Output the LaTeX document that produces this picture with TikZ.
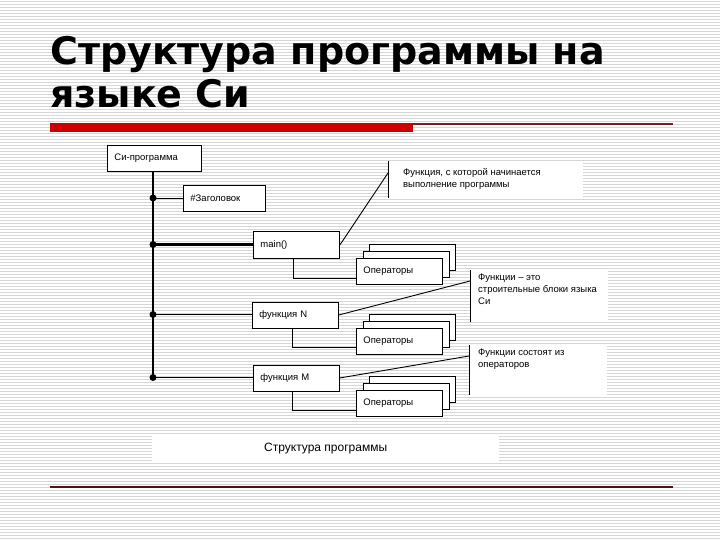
\documentclass[tikz,border=0pt]{standalone}
\usepackage{fontspec}
\setmainfont{Liberation Sans}
\newfontfamily\titlefont{DejaVu Sans}
\definecolor{stripegray}{HTML}{D6D6D6}
\definecolor{barred}{HTML}{CC0000}
\definecolor{thinred}{HTML}{7A1F1F}
\definecolor{bottomline}{HTML}{4A1414}
\begin{document}
\begin{tikzpicture}[x=1pt,y=-1pt,
  stripe/.style={draw=stripegray, line width=1.1pt},
  ttl/.style={font=\titlefont\bfseries\fontsize{38}{43}\selectfont, inner sep=0pt, anchor=base west},
  small/.style={font=\fontsize{9.5}{12}\selectfont},
  blk/.style={draw, fill=white, line width=0.9pt, small, inner xsep=7pt, inner ysep=0pt,
    minimum height=26pt, align=left, anchor=north west},
  opbox/.style={blk, text width=72pt},
  ann/.style={fill=white, small, inner ysep=0pt, anchor=north west},
  conn/.style={draw, line width=0.9pt},
  dotn/.style={circle, fill, inner sep=0pt, minimum size=7pt}
]
\useasboundingbox (0,0) rectangle (720,540);
\fill[white] (0,0) rectangle (720,540);
\foreach \yy in {1.5,4.5,...,540} \draw[stripe] (0,\yy) -- (720,\yy);

% title
\node[ttl] (t1) at (50,65) {Структура программы на};
\node[ttl] (t2) at (50,108) {языке Си};
\fill[barred] (50,123) rectangle (413,132);
\draw[thinred, line width=1.1pt] (413,124) -- (673,124);
\draw[bottomline, line width=1.2pt] (50,487) -- (673,487);

% main boxes
\node[blk, text width=80pt] (cp) at (107,145) {Си-программа};
\node[blk, text width=68pt] (hdr) at (183,185) {\#Заголовок};
\node[blk, text width=72pt] (main) at (253,231.5) {main()};
\node[blk, text width=72pt] (fN) at (252,301.5) {функция N};
\node[blk, text width=72pt] (fM) at (253,364.5) {функция M};

% operator stacks
\node[opbox] (op1b) at (369,244) {};
\node[opbox] (op1m) at (362.5,251) {};
\node[opbox] (op1) at (356,258) {Операторы};
\node[opbox] (op2b) at (369,314) {};
\node[opbox] (op2m) at (362.5,321) {};
\node[opbox] (op2) at (356,328) {Операторы};
\node[opbox] (op3b) at (369,376) {};
\node[opbox] (op3m) at (362.5,383) {};
\node[opbox] (op3) at (356,390) {Операторы};

% annotations
\node[ann, inner xsep=15pt, inner ysep=7pt] (ann1) at (388,161)
  {\parbox[c][23pt][t]{165pt}{\raggedright Функция, с которой начинается\\выполнение программы}};
\node[ann, inner xsep=8pt, inner ysep=4pt] (ann2) at (470,270)
  {\parbox[c][44pt][t]{122pt}{\raggedright Функции – это\\строительные блоки языка\\Си}};
\node[ann, inner xsep=9pt, inner ysep=4pt] (ann3) at (469,345)
  {\parbox[c][42pt][t]{120pt}{\raggedright Функции состоят из\\операторов}};
\draw[conn] (ann1.north west) -- (ann1.south west);
\draw[conn] (ann2.north west) -- (ann2.south west);
\draw[conn] (ann3.north west) -- (ann3.south west);

% caption
\node[fill=white, minimum width=347pt, minimum height=28pt, inner sep=0pt,
  font=\fontsize{12}{14}\selectfont, anchor=north west] (cap) at (152,434) {Структура программы};

% dots and trunk
\node[dotn] (d1) at (153,198) {};
\node[dotn] (d2) at (153,244.5) {};
\node[dotn] (d3) at (153,314.5) {};
\node[dotn] (d4) at (153,377.5) {};
\draw[conn, line width=1.1pt] (cp.south -| d1) -- (d4.center);
\draw[conn] (d1.center) -- (d1 -| hdr.west);
\draw[conn, line width=2.6pt] (d2.center) -- (d2 -| main.west);
\draw[conn] (d3.center) -- (d3 -| fN.west);
\draw[conn] (d4.center) -- (d4 -| fM.west);

% function to operators
\draw[conn] ([xshift=40pt]main.south west) |- ([yshift=-7pt]op1.west);
\draw[conn] ([xshift=40pt]fN.south west) |- ([yshift=-6pt]op2.west);
\draw[conn] ([xshift=39pt]fM.south west) |- ([yshift=-6.5pt]op3.west);

% callout lines
\draw[conn] (main.east) -- ([yshift=-12pt]ann1.north west);
\draw[conn] (fN.east) -- ([yshift=-11pt]ann2.north west);
\draw[conn] (fM.east) -- ([yshift=-11pt]ann3.north west);
\end{tikzpicture}
\end{document}
